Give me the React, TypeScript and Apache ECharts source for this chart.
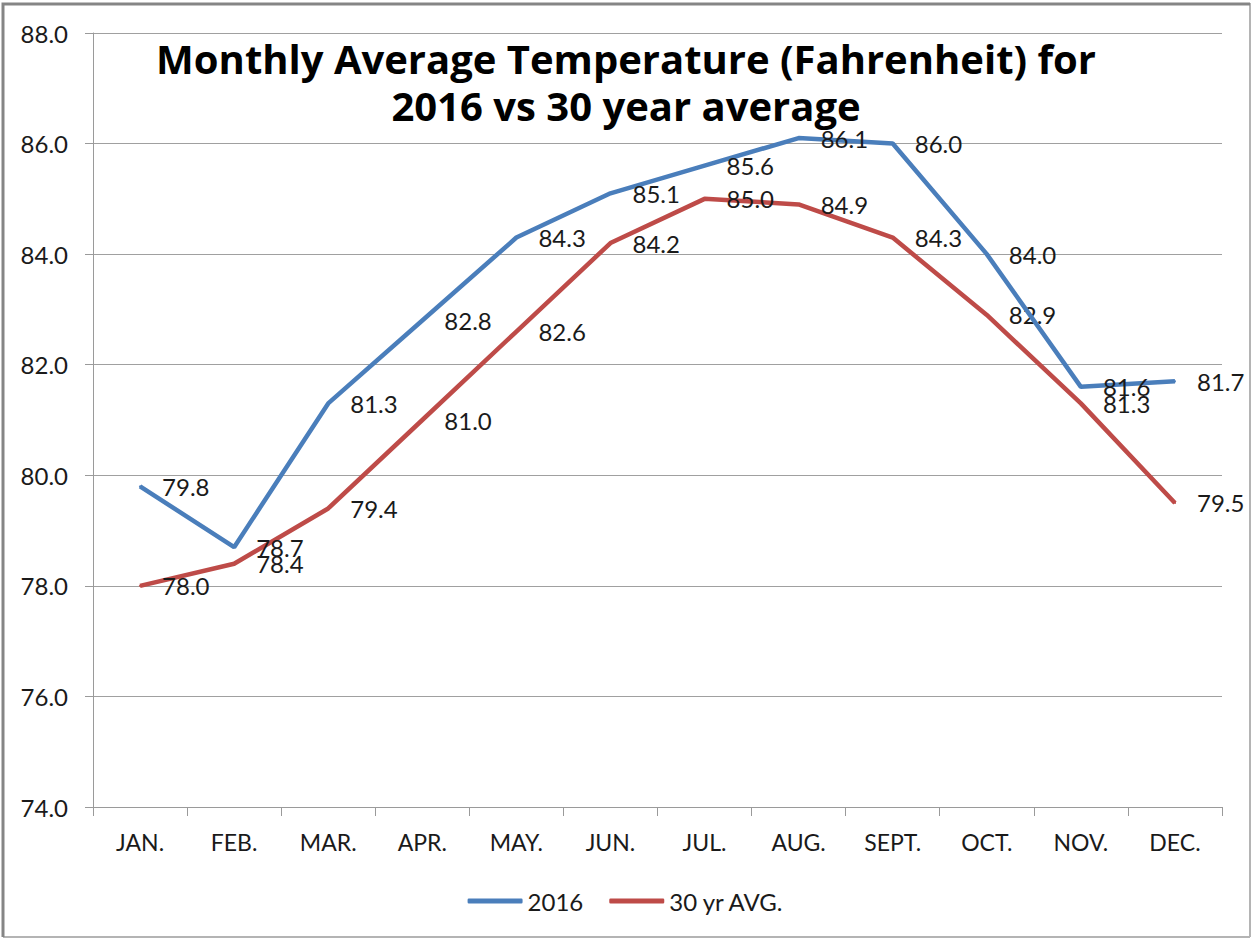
import React, { useEffect, useRef } from "react";
import * as echarts from "echarts";

const months = ["JAN.", "FEB.", "MAR.", "APR.", "MAY.", "JUN.", "JUL.", "AUG.", "SEPT.", "OCT.", "NOV.", "DEC."];
const temps2016 = [79.8, 78.7, 81.3, 82.8, 84.3, 85.1, 85.6, 86.1, 86.0, 84.0, 81.6, 81.7];
const avg30yr = [78.0, 78.4, 79.4, 81.0, 82.6, 84.2, 85.0, 84.9, 84.3, 82.9, 81.3, 79.5];
const seriesNames = ["2016", "30 yr AVG."];
const titleText = "Monthly Average Temperature (Fahrenheit) for\n2016 vs 30 year average";

const FONT = "Lato, 'Open Sans', sans-serif";

export default function App() {
  const ref = useRef<HTMLDivElement>(null);
  useEffect(() => {
    if (!ref.current) return;
    const chart = echarts.init(ref.current, null, { renderer: "svg" });
    const labelCfg = {
      show: true,
      position: "right",
      distance: 21,
      fontFamily: FONT,
      fontSize: 24,
      color: "#1a1a1a",
      formatter: (p: any) => Number(p.value).toFixed(1),
    };
    chart.setOption({
      animation: false,
      backgroundColor: "#ffffff",
      title: {
        text: titleText,
        left: "center",
        top: 30,
        textStyle: {
          fontFamily: "'Open Sans', Lato, sans-serif",
          fontWeight: "bold",
          fontSize: 40,
          lineHeight: 47,
          color: "#000000",
        },
      },
      legend: {
        data: [
          { name: seriesNames[0], icon: "roundRect" },
          { name: seriesNames[1], icon: "roundRect" },
        ],
        left: "center",
        top: 884,
        itemWidth: 55,
        itemHeight: 5,
        itemGap: 26,
        textStyle: { fontFamily: FONT, fontSize: 24, color: "#1a1a1a" },
      },
      grid: { left: 93, right: 30, top: 33, bottom: 131, containLabel: false },
      xAxis: {
        type: "category",
        data: months,
        boundaryGap: true,
        axisLine: { show: true, lineStyle: { color: "#9a9a9a", width: 1 } },
        axisTick: { show: true, length: 9, lineStyle: { color: "#9a9a9a" } },
        axisLabel: { fontFamily: FONT, fontSize: 23, color: "#1a1a1a", margin: 23 },
        splitLine: { show: false },
      },
      yAxis: {
        type: "value",
        min: 74,
        max: 88,
        interval: 2,
        axisLine: { show: true, lineStyle: { color: "#9a9a9a", width: 1 } },
        axisTick: { show: true, length: 8, lineStyle: { color: "#9a9a9a" } },
        axisLabel: {
          fontFamily: FONT,
          fontSize: 24,
          color: "#1a1a1a",
          margin: 25,
          formatter: (v: number) => v.toFixed(1),
        },
        splitLine: { show: true, lineStyle: { color: "#a0a0a0", width: 1 } },
      },
      series: [
        {
          name: seriesNames[0],
          type: "line",
          data: temps2016,
          symbol: "circle",
          symbolSize: 2,
          color: "#4a7ebb",
          lineStyle: { width: 4.5, color: "#4a7ebb" },
          itemStyle: { color: "#4a7ebb" },
          label: labelCfg,
          z: 3,
        },
        {
          name: seriesNames[1],
          type: "line",
          data: avg30yr,
          symbol: "circle",
          symbolSize: 2,
          color: "#be4b48",
          lineStyle: { width: 4.5, color: "#be4b48" },
          itemStyle: { color: "#be4b48" },
          label: labelCfg,
          z: 2,
        },
      ],
      graphic: [
        {
          type: "polyline",
          shape: { points: [[1250, 937], [1250, 3]] },
          style: { stroke: "#b4b4b4", lineWidth: 2, fill: "none" },
          silent: true,
        },
        {
          type: "polyline",
          shape: { points: [[3, 937], [1250, 937]] },
          style: { stroke: "#b4b4b4", lineWidth: 2, fill: "none" },
          silent: true,
        },
        {
          type: "polyline",
          shape: { points: [[3, 937], [3, 4], [1250, 4]] },
          style: { stroke: "#858585", lineWidth: 3, fill: "none" },
          silent: true,
        },
      ],
    });
    return () => chart.dispose();
  }, []);
  return (
    <div
      ref={ref}
      style={{ position: "absolute", left: 0, top: 0, width: 1252, height: 938 }}
    />
  );
}
